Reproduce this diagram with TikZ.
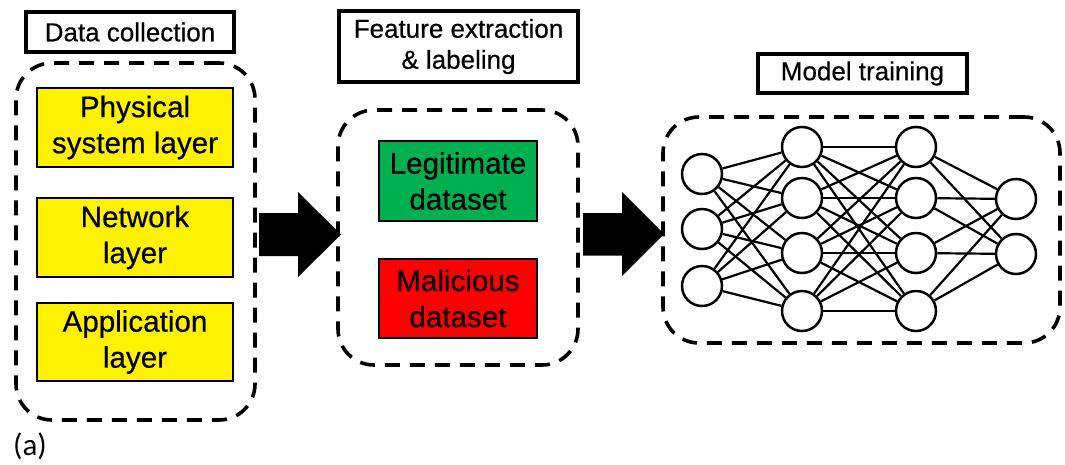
\documentclass[tikz,border=0pt]{standalone}
\usepackage{fontspec}
\setmainfont{Liberation Sans}[FakeBold=0.5]
\newfontfamily\labelfont{Carlito}
\begin{document}
\begin{tikzpicture}[x=1pt,y=-1pt,
  titlebox/.style={draw=black, line width=3.4pt, inner sep=0pt, align=center,
    font=\fontsize{26}{31}\selectfont},
  layerbox/.style={draw=black, line width=2.4pt, inner sep=0pt, align=center,
    minimum width=196pt, font=\fontsize{29.6}{36}\selectfont},
  dsetbox/.style={draw=black, line width=2.4pt, inner sep=0pt, align=center,
    minimum width=158pt, minimum height=80pt, font=\fontsize{29.6}{36}\selectfont},
  groupbox/.style={draw=black, line width=3.6pt, dash pattern=on 15pt off 10pt,
    rounded corners=36pt, inner sep=0pt},
  neuron/.style={circle, draw=black, line width=2.5pt, minimum size=40pt, inner sep=0pt},
  link/.style={line width=2.2pt},
  blockarrow/.style={fill=black, draw=none}
]
\useasboundingbox (0,0) rectangle (1065,464);

% group boxes
\node[groupbox, minimum width=239pt, minimum height=357pt] (dc) at (135.5,241.5) {};
\node[groupbox, minimum width=240pt, minimum height=255pt] (fe) at (458,237.5) {};
\node[groupbox, minimum width=397pt, minimum height=226pt] (mt) at (861.5,230) {};

% titles
\node[titlebox, minimum width=208pt, minimum height=40pt] (t1) at (130,32) {Data collection};
\node[titlebox, minimum width=239pt, minimum height=71pt] (t2) at (458.5,46.5) {Feature extraction\\\& labeling};
\node[titlebox, minimum width=209pt, minimum height=39pt] (t3) at (862.5,73.5) {Model training};

% layers
\node[layerbox, fill=yellow, minimum height=79pt] (l1) at (135,127.5) {Physical\\system layer};
\node[layerbox, fill=yellow, minimum height=79pt] (l2) at (135,237.5) {Network\\layer};
\node[layerbox, fill=yellow, minimum height=78pt] (l3) at (135,342) {Application\\layer};

% datasets
\node[dsetbox, fill={rgb,255:red,0;green,176;blue,80}] (legit) at (458,181) {Legitimate\\dataset};
\node[dsetbox, fill={rgb,255:red,255;green,0;blue,0}, minimum height=79pt] (mal) at (458,298.5) {Malicious\\dataset};

% block arrows
\coordinate (a1) at (259,234.5);
\coordinate (a2) at (583,234.5);
\fill[blockarrow] (a1) ++(0,-21.5) -- ++(39,0) -- ++(0,-21) -- ++(43,42.5) -- ++(-43,42.5) -- ++(0,-21) -- ++(-39,0) -- cycle;
\fill[blockarrow] (a2) ++(0,-21.5) -- ++(39,0) -- ++(0,-21) -- ++(42,42) -- ++(-42,42) -- ++(0,-20.5) -- ++(-39,0) -- cycle;

% neural network
\foreach \i/\y in {1/174,2/229,3/286} \node[neuron] (a\i) at (702,\y) {};
\foreach \i/\y in {1/147,2/198,3/253,4/311} \node[neuron] (b\i) at (802,\y) {};
\foreach \i/\y in {1/147,2/198,3/253,4/311} \node[neuron] (c\i) at (916,\y) {};
\foreach \i/\y in {1/199,2/254} \node[neuron] (d\i) at (1016,\y) {};

\foreach \i in {1,2,3} \foreach \j in {1,2,3,4} \draw[link] (a\i) -- (b\j);
\foreach \i in {1,2,3,4} \foreach \j in {1,2,3,4} \draw[link] (b\i) -- (c\j);
\foreach \i in {1,2,3,4} \foreach \j in {1,2} \draw[link] (c\i) -- (d\j);

% panel label
\node[font=\labelfont\fontsize{31}{36}\selectfont, inner sep=0pt] (lbl) at (30,446) {(a)};
\end{tikzpicture}
\end{document}
